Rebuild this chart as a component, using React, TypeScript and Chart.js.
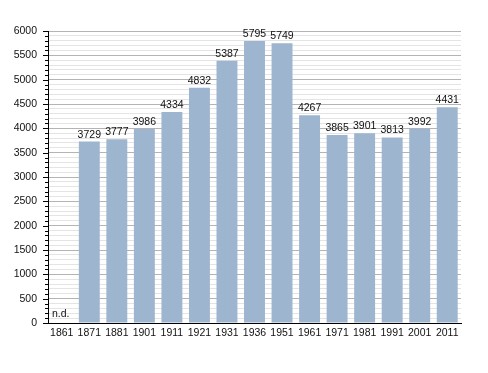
import React, { useEffect, useRef } from "react";
import { Chart, registerables } from "chart.js";

Chart.register(...registerables);

const years = ["1861", "1871", "1881", "1901", "1911", "1921", "1931", "1936", "1951", "1961", "1971", "1981", "1991", "2001", "2011"];
const population: (number | null)[] = [null, 3729, 3777, 3986, 4334, 4832, 5387, 5795, 5749, 4267, 3865, 3901, 3813, 3992, 4431];
const missingLabel = "n.d.";

const FONT = "'Liberation Sans', Arial, sans-serif";

const labelPlugin = {
  id: "valueLabels",
  afterDraw(chart: any) {
    const ctx = chart.ctx;
    const meta = chart.getDatasetMeta(0);
    const yScale = chart.scales.y;
    ctx.save();
    // y tick marks
    ctx.strokeStyle = "#000";
    ctx.lineWidth = 1;
    const left = chart.chartArea.left;
    yScale.ticks.forEach((t: any) => {
      const y = Math.round(yScale.getPixelForValue(t.value)) + 0.5;
      const len = t.value % 500 === 0 ? 5 : 3;
      ctx.beginPath();
      ctx.moveTo(left - len, y);
      ctx.lineTo(left, y);
      ctx.stroke();
    });
    ctx.font = `10.5px ${FONT}`;
    ctx.fillStyle = "#111";
    ctx.textAlign = "center";
    ctx.textBaseline = "alphabetic";
    meta.data.forEach((bar: any, i: number) => {
      const v = population[i];
      if (v == null) {
        ctx.fillText(missingLabel, bar.x - 1, yScale.getPixelForValue(0) - 6);
      } else {
        ctx.fillText(String(v), bar.x, bar.y - 4);
      }
    });
    ctx.restore();
  },
};

export default function App() {
  const ref = useRef<HTMLCanvasElement>(null);
  useEffect(() => {
    const chart = new Chart(ref.current!, {
      type: "bar",
      data: {
        labels: years,
        datasets: [
          {
            data: population as any,
            backgroundColor: "#9db5cf",
            borderWidth: 0,
            barPercentage: 0.76,
            categoryPercentage: 1,
          },
        ],
      },
      options: {
        animation: false,
        responsive: false,
        layout: { padding: { top: 31, right: 27, left: 0, bottom: 0 } },
        plugins: { legend: { display: false }, tooltip: { enabled: false } },
        scales: {
          x: {
            grid: { display: false, drawTicks: false },
            border: { display: true, color: "#000", width: 1 },
            ticks: { color: "#111", font: { size: 10.5, family: FONT }, padding: 4, maxRotation: 0, autoSkip: false },
            afterFit: (s: any) => { s.height = 50; },
          },
          y: {
            min: 0,
            max: 6000,
            ticks: {
              stepSize: 100,
              autoSkip: false,
              color: "#111",
              font: { size: 10.5, family: FONT },
              padding: 11,
              callback: (v: any) => (Number(v) % 500 === 0 ? String(v) : ""),
            },
            grid: {
              drawTicks: false,
              color: (c: any) => (c.tick && c.tick.value % 500 === 0 ? "#b4b4b4" : "#e4e4e4"),
            },
            border: { display: true, color: "#000", width: 1 },
            afterFit: (s: any) => { s.width = 48; },
          },
        },
      },
      plugins: [labelPlugin],
    });
    return () => chart.destroy();
  }, []);
  return (
    <div style={{ position: "absolute", left: 0, top: 0, width: 488, height: 373, background: "#fff" }}>
      <canvas ref={ref} width={488} height={373} style={{ width: 488, height: 373 }} />
    </div>
  );
}
